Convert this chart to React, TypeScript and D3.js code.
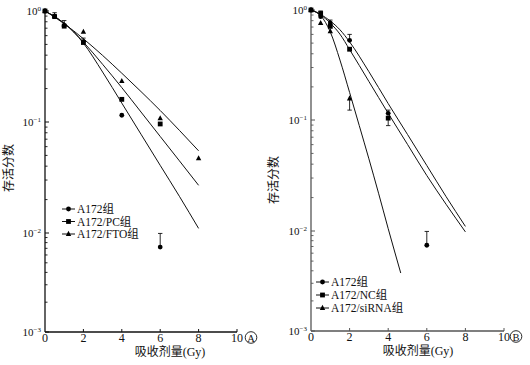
import React from 'react';
import * as d3 from 'd3';

// ---------- shared ticks ----------
const xTicks = [0, 2, 4, 6, 8, 10];
const yDecades = [-3, -2, -1, 0];
const yExpLabels = ['−3', '−2', '−1', '0'];
const xLabel = '吸收剂量(Gy)';
const yLabel = '存活分数';

// ---------- Panel A ----------
const curveDoseA = [0, 0.5, 1, 1.5, 2, 3, 4, 5, 6, 7, 8];
const curveA_A172 = [1, 0.891, 0.776, 0.646, 0.513, 0.282, 0.148, 0.0776, 0.0407, 0.0214, 0.011];
const curveA_PC = [1, 0.891, 0.776, 0.646, 0.525, 0.331, 0.204, 0.123, 0.0741, 0.0447, 0.0269];
const curveA_FTO = [1, 0.881, 0.767, 0.661, 0.562, 0.398, 0.275, 0.188, 0.127, 0.0841, 0.055];

const ptDoseA_A172 = [0, 0.5, 1, 2, 4, 6];
const ptA_A172 = [1, 0.9, 0.74, 0.53, 0.115, 0.0072];
const ptA_A172_hi = [null, null, null, null, null, 0.0099];
const ptDoseA_PC = [0, 0.5, 1, 2, 4, 6];
const ptA_PC = [1, 0.89, 0.73, 0.52, 0.16, 0.096];
const ptA_PC_hi = [null, 0.965, 0.82, 0.57, null, null];
const ptDoseA_FTO = [0, 0.5, 1, 2, 4, 6, 8];
const ptA_FTO = [1, 0.9, 0.75, 0.65, 0.234, 0.108, 0.047];
const legendA = ['A172组', 'A172/PC组', 'A172/FTO组'];

// ---------- Panel B ----------
const curveDoseB = [0, 0.5, 1, 1.5, 2, 3, 4, 5, 6, 7, 8];
const curveB_A172 = [1, 0.912, 0.794, 0.661, 0.513, 0.275, 0.141, 0.0741, 0.0389, 0.0204, 0.011];
const curveB_NC = [1, 0.902, 0.759, 0.603, 0.437, 0.224, 0.115, 0.0603, 0.0316, 0.0174, 0.0098];
const curveDoseB_si = [0, 0.5, 1, 1.5, 2, 2.5, 3, 3.5, 4, 4.65];
const curveB_si = [1, 0.891, 0.631, 0.351, 0.178, 0.0891, 0.0447, 0.0219, 0.0105, 0.0038];

const ptDoseB_A172 = [0, 0.5, 1, 2, 4, 6];
const ptB_A172 = [1, 0.87, 0.76, 0.53, 0.115, 0.0072];
const ptB_A172_hi = [null, 0.98, 0.81, 0.6, 0.123, 0.0099];
const ptDoseB_NC = [0, 0.5, 1, 2, 4];
const ptB_NC = [1, 0.93, 0.71, 0.44, 0.104];
const ptB_NC_lo = [null, null, null, null, 0.089];
const ptDoseB_si = [0, 0.5, 1, 2];
const ptB_si = [1, 0.76, 0.64, 0.157];
const ptB_si_lo = [null, null, null, 0.123];
const legendB = ['A172组', 'A172/NC组', 'A172/siRNA组'];

const FONT = "'Liberation Serif', 'Times New Roman', 'Noto Sans CJK SC', serif";
const CJK = "'Liberation Serif', 'Noto Sans CJK SC', serif";

type Shape = 'circle' | 'square' | 'triangle';

function Marker({ x, y, shape }: { x: number; y: number; shape: Shape }) {
  if (shape === 'circle') return <circle cx={x} cy={y} r={2.4} fill="#000" />;
  if (shape === 'square') return <rect x={x - 2.4} y={y - 2.4} width={4.8} height={4.8} fill="#000" />;
  const s = 5.4;
  return (
    <path
      d={`M${x},${y - s * 0.58} L${x + s / 2},${y + s * 0.36} L${x - s / 2},${y + s * 0.36} Z`}
      fill="#000"
    />
  );
}

interface Series {
  cd: number[];
  cv: number[];
  pd: number[];
  pv: number[];
  hi?: (number | null)[];
  lo?: (number | null)[];
  shape: Shape;
}

interface Layout {
  x0: number;
  x1: number;
  yPos: number[]; // positions of decades -3..0
  legendX: number;
  legendY: number[];
  xLabelX: number;
  yLabelX: number;
  yLabelY: number;
  tagX: number;
  tag: string;
  axisColor: string;
}

function Panel({ series, legend, L }: { series: Series[]; legend: string[]; L: Layout }) {
  const x = d3.scaleLinear().domain([0, 10]).range([L.x0, L.x1]);
  const yl = d3.scaleLinear().domain(yDecades).range(L.yPos);
  const y = (v: number) => yl(Math.log10(v));
  const yBottom = L.yPos[0];
  const yTop = L.yPos[3];
  const line = d3
    .line<[number, number]>()
    .x((d) => x(d[0]))
    .y((d) => y(d[1]))
    .curve(d3.curveMonotoneX);

  const minor: number[] = [];
  for (let e = -3; e < 0; e++) for (let k = 2; k <= 9; k++) minor.push(k * Math.pow(10, e));

  return (
    <g>
      {/* axes */}
      <line x1={L.x0} x2={L.x0} y1={yTop - 1} y2={yBottom} stroke={L.axisColor} strokeWidth={1.3} />
      <line x1={L.x0} x2={L.x1} y1={yBottom} y2={yBottom} stroke={L.axisColor} strokeWidth={1.3} />
      {yDecades.map((e, i) => (
        <g key={'yd' + e}>
          <line x1={L.x0} x2={L.x0 + 4} y1={yl(e)} y2={yl(e)} stroke={L.axisColor} strokeWidth={1} />
          <text x={L.x0 - 4} y={yl(e) + 4} textAnchor="end" fontFamily={FONT} fontSize={11} fill="#111">
            10
            <tspan dy={-4.5} fontSize={7}>
              {yExpLabels[i]}
            </tspan>
          </text>
        </g>
      ))}
      {minor.map((v, i) => (
        <line key={'ym' + i} x1={L.x0} x2={L.x0 + 2.5} y1={y(v)} y2={y(v)} stroke={L.axisColor} strokeWidth={0.9} />
      ))}
      {xTicks.map((t) => (
        <g key={'xt' + t}>
          {t > 0 && <line x1={x(t)} x2={x(t)} y1={yBottom} y2={yBottom - 3} stroke={L.axisColor} strokeWidth={1} />}
          <text x={x(t)} y={yBottom + 10} textAnchor="middle" fontFamily={FONT} fontSize={12} fill="#111">
            {t}
          </text>
        </g>
      ))}
      {/* tag */}
      <circle cx={L.tagX} cy={yBottom + 5.5} r={5.8} fill="none" stroke="#111" strokeWidth={0.9} />
      <text x={L.tagX} y={yBottom + 9.5} textAnchor="middle" fontFamily={FONT} fontSize={10.5} fill="#111">
        {L.tag}
      </text>
      {/* axis labels */}
      <text x={L.xLabelX} y={yBottom + 24} textAnchor="middle" fontFamily={CJK} fontSize={12} fill="#111">
        {xLabel}
      </text>
      <text
        transform={`translate(${L.yLabelX},${L.yLabelY}) rotate(-90)`}
        textAnchor="middle"
        fontFamily={CJK}
        fontSize={12}
        fill="#111"
      >
        {yLabel}
      </text>
      {/* curves */}
      {series.map((s, i) => (
        <path
          key={'c' + i}
          d={line(s.cd.map((d, j) => [d, s.cv[j]] as [number, number])) || ''}
          fill="none"
          stroke="#111"
          strokeWidth={1}
        />
      ))}
      {/* error bars */}
      {series.map((s, i) =>
        s.pd.map((d, j) => {
          const out: React.ReactNode[] = [];
          const ends = [s.hi ? s.hi[j] : null, s.lo ? s.lo[j] : null];
          ends.forEach((e, k) => {
            if (e != null) {
              out.push(
                <g key={`e${i}-${j}-${k}`}>
                  <line x1={x(d)} x2={x(d)} y1={y(s.pv[j])} y2={y(e)} stroke="#111" strokeWidth={0.9} />
                  <line x1={x(d) - 2.2} x2={x(d) + 2.2} y1={y(e)} y2={y(e)} stroke="#111" strokeWidth={0.9} />
                </g>
              );
            }
          });
          return out;
        })
      )}
      {/* markers */}
      {series.map((s, i) =>
        s.pd.map((d, j) => <Marker key={`m${i}-${j}`} x={x(d)} y={y(s.pv[j])} shape={s.shape} />)
      )}
      {/* legend */}
      {legend.map((name, i) => (
        <g key={'lg' + i}>
          <line x1={L.legendX} x2={L.legendX + 13} y1={L.legendY[i]} y2={L.legendY[i]} stroke="#111" strokeWidth={1} />
          <Marker x={L.legendX + 6.5} y={L.legendY[i]} shape={series[i].shape} />
          <text x={L.legendX + 15} y={L.legendY[i] + 4} fontFamily={CJK} fontSize={11.5} fill="#111">
            {name}
          </text>
        </g>
      ))}
    </g>
  );
}

export default function App() {
  const seriesA: Series[] = [
    { cd: curveDoseA, cv: curveA_A172, pd: ptDoseA_A172, pv: ptA_A172, hi: ptA_A172_hi, shape: 'circle' },
    { cd: curveDoseA, cv: curveA_PC, pd: ptDoseA_PC, pv: ptA_PC, hi: ptA_PC_hi, shape: 'square' },
    { cd: curveDoseA, cv: curveA_FTO, pd: ptDoseA_FTO, pv: ptA_FTO, shape: 'triangle' },
  ];
  const seriesB: Series[] = [
    { cd: curveDoseB, cv: curveB_A172, pd: ptDoseB_A172, pv: ptB_A172, hi: ptB_A172_hi, shape: 'circle' },
    { cd: curveDoseB, cv: curveB_NC, pd: ptDoseB_NC, pv: ptB_NC, lo: ptB_NC_lo, shape: 'square' },
    { cd: curveDoseB_si, cv: curveB_si, pd: ptDoseB_si, pv: ptB_si, lo: ptB_si_lo, shape: 'triangle' },
  ];
  const LA: Layout = {
    x0: 45,
    x1: 237,
    yPos: [332, 233, 122, 11],
    legendX: 62,
    legendY: [209, 221.5, 234],
    xLabelX: 170,
    yLabelX: 13,
    yLabelY: 168,
    tagX: 251,
    tag: 'A',
    axisColor: '#111',
  };
  const LB: Layout = {
    x0: 311,
    x1: 504,
    yPos: [331, 231, 120, 10],
    legendX: 316,
    legendY: [282, 295, 308],
    xLabelX: 418,
    yLabelX: 278,
    yLabelY: 180,
    tagX: 516,
    tag: 'B',
    axisColor: '#555',
  };
  return (
    <svg
      width={530}
      height={365}
      style={{ position: 'absolute', left: 0, top: 0, background: '#fff' }}
    >
      <rect width={530} height={365} fill="#fff" />
      <Panel series={seriesA} legend={legendA} L={LA} />
      <Panel series={seriesB} legend={legendB} L={LB} />
    </svg>
  );
}
